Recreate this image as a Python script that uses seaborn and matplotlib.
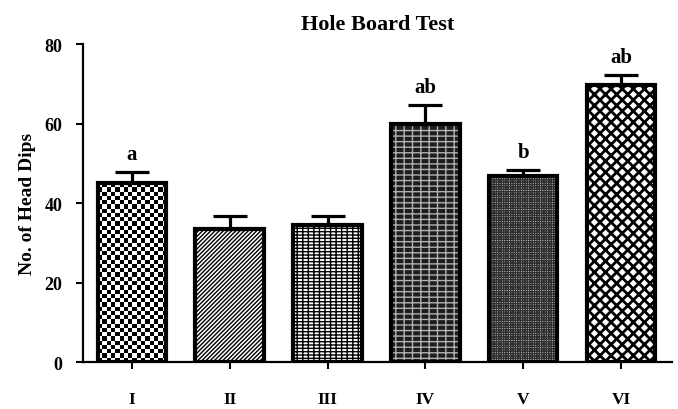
import matplotlib
matplotlib.use("Agg")
import matplotlib.pyplot as plt
import seaborn as sns
import numpy as np
import pandas as pd
from matplotlib.patches import Rectangle

groups = ["I", "II", "III", "IV", "V", "VI"]
head_dips = [45.0, 33.5, 34.5, 59.8, 46.8, 69.7]
sem = [2.8, 3.3, 2.2, 5.0, 1.5, 2.6]
letters = ["a", "", "", "ab", "b", "ab"]

# fill colour, hatch, hatch colour, hatch width for each group
# (group I gets a checkerboard image instead of a hatch)
face_colors = ["white", "white", "white", "#1e1e1e", "#d8d8d8", "white"]
hatches = ["", "////////", "-----|||", "---||", "+++++++", "xxx"]
hatch_colors = ["black", "black", "black", "#b0b0b0", "#303030", "black"]
hatch_widths = [1.0, 1.0, 1.0, 1.0, 1.0, 2.0]

df = pd.DataFrame({"group": groups, "dips": head_dips})

sns.set_style("ticks")
plt.rcParams["font.family"] = ["Liberation Serif", "DejaVu Serif"]
plt.rcParams["font.weight"] = "bold"
for k in ["text.color", "axes.labelcolor", "xtick.color", "ytick.color", "axes.edgecolor"]:
    plt.rcParams[k] = "black"

fig, ax = plt.subplots(figsize=(6.78, 4.10), dpi=100)
fig.subplots_adjust(left=0.1224, right=0.991, bottom=0.1146, top=0.890)

sns.barplot(data=df, x="group", y="dips", color="white", width=0.7,
            errorbar=None, ax=ax)
ax.set_ylim(0, 80)
ax.set_xlim(-0.5, 5.52)

for p, fc, h, hc, hw in zip(ax.patches, face_colors, hatches, hatch_colors, hatch_widths):
    p.set_facecolor(fc)
    p.set_edgecolor(hc)
    p.set_linewidth(0)
    p.set_hatch(h)
    if hasattr(p, "set_hatch_linewidth"):
        p.set_hatch_linewidth(hw)
    # black outline on top of the fill
    ax.add_patch(Rectangle((p.get_x(), p.get_y()), p.get_width(), p.get_height(),
                           fill=False, edgecolor="black", linewidth=3, zorder=3))

# checkerboard texture for group I, clipped to its bar
p = ax.patches[0]
x0, y0, w, h = p.get_x(), p.get_y(), p.get_width(), p.get_height()
(px0, py0), (px1, py1) = ax.transData.transform([(x0, y0), (x0 + w, y0 + h)])
ncol = 16
nrow = int(round((py1 - py0) / ((px1 - px0) / ncol)))
checker = np.add.outer(np.arange(nrow), np.arange(ncol)) % 2
im = ax.imshow(checker, cmap="gray_r", vmin=0, vmax=1, interpolation="nearest",
               extent=(x0, x0 + w, y0, y0 + h), aspect="auto", zorder=1.5)
im.set_clip_path(p)

x = range(len(groups))
ax.errorbar(x, head_dips, yerr=[[0] * len(sem), sem], fmt="none", ecolor="black",
            elinewidth=2.3, capsize=12, capthick=2.3, zorder=2)

for i, (v, e, t) in enumerate(zip(head_dips, sem, letters)):
    if t:
        ax.text(i, v + e + 2.0, t, ha="center", va="bottom", fontsize=15,
                fontweight="bold")

ax.set_ylim(0, 80)
ax.set_xlim(-0.5, 5.52)
ax.set_yticks([0, 20, 40, 60, 80])
ax.set_title("Hole Board Test", fontsize=16, fontweight="bold", pad=11)
ax.set_ylabel("No. of Head Dips", fontsize=14, fontweight="bold", labelpad=6)
ax.set_xlabel("")
ax.tick_params(axis="y", labelsize=13, length=5, width=1.5, pad=10)
ax.tick_params(axis="x", labelsize=12.5, length=5, width=1.5, pad=16)
sns.despine(ax=ax)
for s in ["left", "bottom"]:
    ax.spines[s].set_linewidth(1.6)

plt.savefig("out.png", dpi=100)
plt.close()
